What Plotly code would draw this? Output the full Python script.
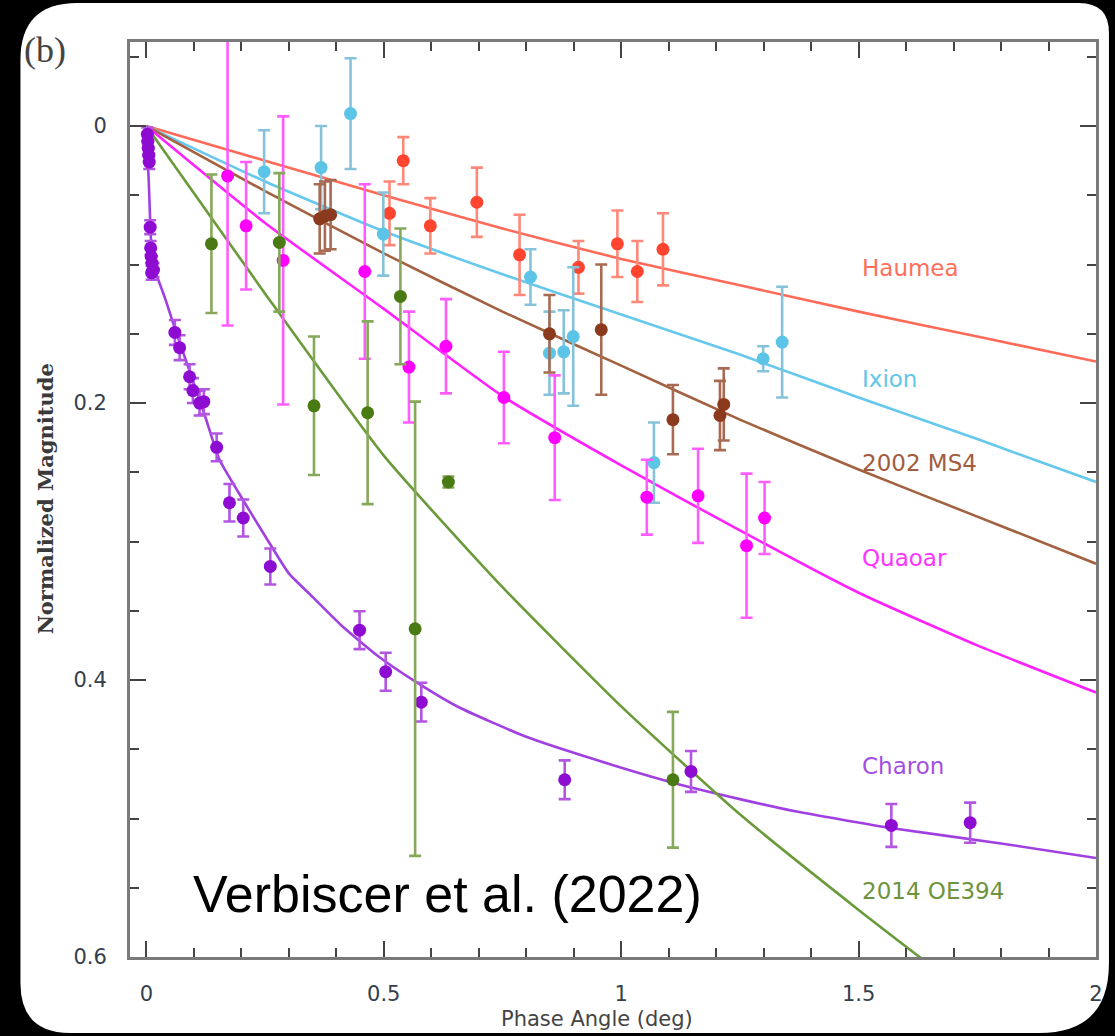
import plotly.graph_objects as go

# ---------------- data ----------------
haumea_x = [0.541, 0.512, 0.598, 0.696, 0.786, 0.910, 0.992, 1.034, 1.088]
haumea_y = [0.025, 0.063, 0.072, 0.055, 0.093, 0.102, 0.085, 0.105, 0.089]
haumea_e = [0.017, 0.023, 0.020, 0.025, 0.029, 0.019, 0.024, 0.022, 0.026]

ixion_x = [0.248, 0.368, 0.430, 0.499, 0.809, 0.849, 0.879, 0.899, 1.069, 1.299, 1.339]
ixion_y = [0.033, 0.030, -0.009, 0.078, 0.109, 0.164, 0.163, 0.152, 0.243, 0.168, 0.156]
ixion_e = [0.030, 0.030, 0.040, 0.030, 0.020, 0.030, 0.030, 0.050, 0.029, 0.009, 0.040]

ms4_x = [0.365, 0.376, 0.388, 0.849, 0.958, 1.109, 1.208, 1.216]
ms4_y = [0.067, 0.065, 0.064, 0.150, 0.147, 0.212, 0.209, 0.201]
ms4_e = [0.025, 0.025, 0.025, 0.028, 0.047, 0.025, 0.025, 0.026]

quaoar_x = [0.171, 0.210, 0.288, 0.460, 0.553, 0.631, 0.753, 0.860, 1.054, 1.162, 1.264, 1.302]
quaoar_y = [0.036, 0.072, 0.097, 0.105, 0.174, 0.159, 0.196, 0.225, 0.268, 0.267, 0.303, 0.283]
quaoar_e = [0.108, 0.046, 0.104, 0.063, 0.040, 0.034, 0.033, 0.045, 0.027, 0.034, 0.052, 0.026]

oe394_x = [0.137, 0.280, 0.353, 0.466, 0.535, 0.566, 0.636, 1.109]
oe394_y = [0.085, 0.084, 0.202, 0.207, 0.123, 0.363, 0.257, 0.472]
oe394_e = [0.050, 0.050, 0.050, 0.066, 0.049, 0.164, 0.004, 0.049]

charon_x = [0.002, 0.003, 0.004, 0.005, 0.006, 0.008, 0.009, 0.010, 0.012, 0.015, 0.011,
            0.060, 0.070, 0.091, 0.098, 0.112, 0.121, 0.148, 0.175, 0.204, 0.261,
            0.449, 0.504, 0.579, 0.881, 1.147, 1.569, 1.735]
charon_y = [0.006, 0.011, 0.016, 0.021, 0.026, 0.073, 0.088, 0.094, 0.099, 0.104, 0.106,
            0.149, 0.160, 0.181, 0.191, 0.200, 0.199, 0.232, 0.272, 0.283, 0.318,
            0.364, 0.394, 0.416, 0.472, 0.466, 0.505, 0.503]
charon_e = [0.005, 0.005, 0.005, 0.005, 0.005, 0.005, 0.005, 0.005, 0.005, 0.005, 0.005,
            0.009, 0.009, 0.009, 0.009, 0.009, 0.009, 0.010, 0.0135, 0.0134, 0.013,
            0.0137, 0.0137, 0.014, 0.014, 0.0148, 0.0155, 0.0145]

# fitted phase curves
fit_x = [0, 0.25, 0.5, 0.75, 1.0, 1.25, 1.5, 1.75, 2.0]
haumea_fit = [0, 0.025, 0.050, 0.074, 0.096, 0.115, 0.134, 0.152, 0.170]
ixion_fit = [0, 0.040, 0.076, 0.107, 0.136, 0.165, 0.196, 0.226, 0.257]
ms4_fit = [0, 0.047, 0.092, 0.134, 0.173, 0.212, 0.248, 0.282, 0.316]
quaoar_fit = [0, 0.070, 0.132, 0.195, 0.245, 0.292, 0.337, 0.375, 0.409]
oe394_fit_x = [0, 0.25, 0.5, 0.75, 1.0, 1.25, 1.5, 1.75]
oe394_fit = [0, 0.121, 0.238, 0.333, 0.419, 0.497, 0.566, 0.632]
charon_fit_x = [0, 0.005, 0.012, 0.02, 0.04, 0.06, 0.08, 0.1, 0.125, 0.154, 0.2, 0.25, 0.3,
                0.35, 0.412, 0.489, 0.566, 0.657, 0.8, 0.95, 1.103, 1.25, 1.369, 1.571, 1.8, 2.0]
charon_fit = [0, 0.04, 0.095, 0.106, 0.125, 0.146, 0.166, 0.186, 0.211, 0.241, 0.268, 0.296, 0.323,
              0.340, 0.361, 0.383, 0.401, 0.4195, 0.441, 0.458, 0.4736, 0.486, 0.495, 0.507, 0.518, 0.5285]

x_ticks = [0, 0.5, 1, 1.5, 2]
x_tick_text = ["0", "0.5", "1", "1.5", "2"]
y_ticks = [0, 0.2, 0.4, 0.6]
y_tick_text = ["0", "0.2", "0.4", "0.6"]

labels = ["Haumea", "Ixion", "2002 MS4", "Quaoar", "Charon", "2014 OE394"]

# ---------------- layout geometry ----------------
W, H = 1115, 1036
L, R, T, B = 130, 1100, 42, 957
PW, PH = R - L, B - T


def px(xp):
    return (xp - L) / PW


def py(yp):
    return (B - yp) / PH


series = [
    # x, y, e, fitx, fity, marker, err, line, label colour, label y(px)
    (haumea_x, haumea_y, haumea_e, fit_x, haumea_fit, "#FF4530", "#FF8878", "#FF6B58", "#FF6F5B", 268),
    (ixion_x, ixion_y, ixion_e, fit_x, ixion_fit, "#5CC4E6", "#86C3DA", "#66C8EC", "#62C6E8", 379),
    (ms4_x, ms4_y, ms4_e, fit_x, ms4_fit, "#8B3A1E", "#A86A52", "#A2623F", "#A25C3E", 463),
    (quaoar_x, quaoar_y, quaoar_e, fit_x, quaoar_fit, "#FF00FF", "#FF5CFF", "#FF22FF", "#FF33FF", 558),
    (charon_x, charon_y, charon_e, charon_fit_x, charon_fit, "#8E0BD2", "#B256E2", "#A040E0", "#A24FE0", 766),
    (oe394_x, oe394_y, oe394_e, oe394_fit_x, oe394_fit, "#4A7A14", "#86A85A", "#6A9A3A", "#6E9440", 891),
]

fig = go.Figure()

for (sx, sy, se, fx, fy, mc, ec, lc, tc, ly) in series:
    fig.add_trace(go.Scatter(x=fx, y=fy, mode="lines",
                             line=dict(color=lc, width=2.6, shape="spline", smoothing=0.5),
                             hoverinfo="skip", showlegend=False))

for (sx, sy, se, fx, fy, mc, ec, lc, tc, ly) in series:
    fig.add_trace(go.Scatter(x=sx, y=sy, mode="markers",
                             marker=dict(color=mc, size=13),
                             error_y=dict(type="data", array=se, visible=True,
                                          color=ec, thickness=2.6, width=6),
                             showlegend=False, cliponaxis=True))

annotations = []
for (sx, sy, se, fx, fy, mc, ec, lc, tc, ly), name in zip(series, labels):
    annotations.append(dict(x=px(863), y=py(ly), xref="paper", yref="paper",
                            text=name, showarrow=False, xanchor="left", yanchor="middle",
                            font=dict(family="DejaVu Sans", size=23, color=tc)))

annotations += [
    dict(x=px(449), y=py(894), xref="paper", yref="paper", text="Verbiscer et al. (2022)",
         showarrow=False, xanchor="center", yanchor="middle",
         font=dict(family="Liberation Sans", size=52, color="#000000")),
    dict(x=px(45), y=py(499), xref="paper", yref="paper", text="<b>Normalized Magnitude</b>",
         showarrow=False, textangle=-90, xanchor="center", yanchor="middle",
         font=dict(family="DejaVu Serif", size=21, color="#3a3a3a")),
    dict(x=px(599), y=py(1019), xref="paper", yref="paper", text="Phase Angle (deg)",
         showarrow=False, xanchor="center", yanchor="middle",
         font=dict(family="DejaVu Sans", size=21, color="#444444")),
    dict(x=px(45), y=py(50), xref="paper", yref="paper", text="(b)",
         showarrow=False, xanchor="center", yanchor="middle",
         font=dict(family="Liberation Serif", size=36, color="#444444")),
]

# white rounded panel on black background
pl, pt, pr, pb = 20, 3, 1113, 1033
rtl, rtr, rbr, rbl = 57, 30, 70, 50
path = (
    f"M {px(pl)},{py(pt + rtl)} "
    f"Q {px(pl)},{py(pt)} {px(pl + rtl)},{py(pt)} "
    f"L {px(pr - rtr)},{py(pt)} "
    f"Q {px(pr)},{py(pt)} {px(pr)},{py(pt + rtr)} "
    f"L {px(pr)},{py(pb - rbr)} "
    f"Q {px(pr)},{py(pb)} {px(pr - rbr)},{py(pb)} "
    f"L {px(pl + rbl)},{py(pb)} "
    f"Q {px(pl)},{py(pb)} {px(pl)},{py(pb - rbl)} Z"
)

fig.update_layout(
    width=W, height=H, autosize=False,
    margin=dict(l=L, r=W - R, t=T, b=H - B, pad=0),
    paper_bgcolor="#000000", plot_bgcolor="#ffffff",
    shapes=[dict(type="path", path=path, xref="paper", yref="paper",
                 fillcolor="#ffffff", line=dict(width=0), layer="below")],
    annotations=annotations,
    showlegend=False,
)

axis_common = dict(
    showgrid=False, zeroline=False, showline=True, linecolor="#7a7a7a", linewidth=3,
    mirror="ticks", ticks="inside", ticklen=16, tickwidth=2, tickcolor="#444444",
    tickfont=dict(family="DejaVu Sans", size=21, color="#34404c"),
    ticklabelstandoff=16,
)

fig.update_xaxes(range=[-0.0345, 2.0], tickmode="array", tickvals=x_ticks, ticktext=x_tick_text,
                 minor=dict(dtick=0.1, tick0=0, ticks="inside", ticklen=9, tickwidth=2, tickcolor="#444444"),
                 **axis_common)
fig.update_yaxes(range=[0.6, -0.0607], tickmode="array", tickvals=y_ticks, ticktext=y_tick_text,
                 minor=dict(dtick=0.05, tick0=0, ticks="inside", ticklen=9, tickwidth=2, tickcolor="#444444"),
                 **axis_common)

fig.write_html("out.html",
               config={"displayModeBar": False},
               post_script="document.body.style.margin='0';document.body.style.overflow='hidden';")
